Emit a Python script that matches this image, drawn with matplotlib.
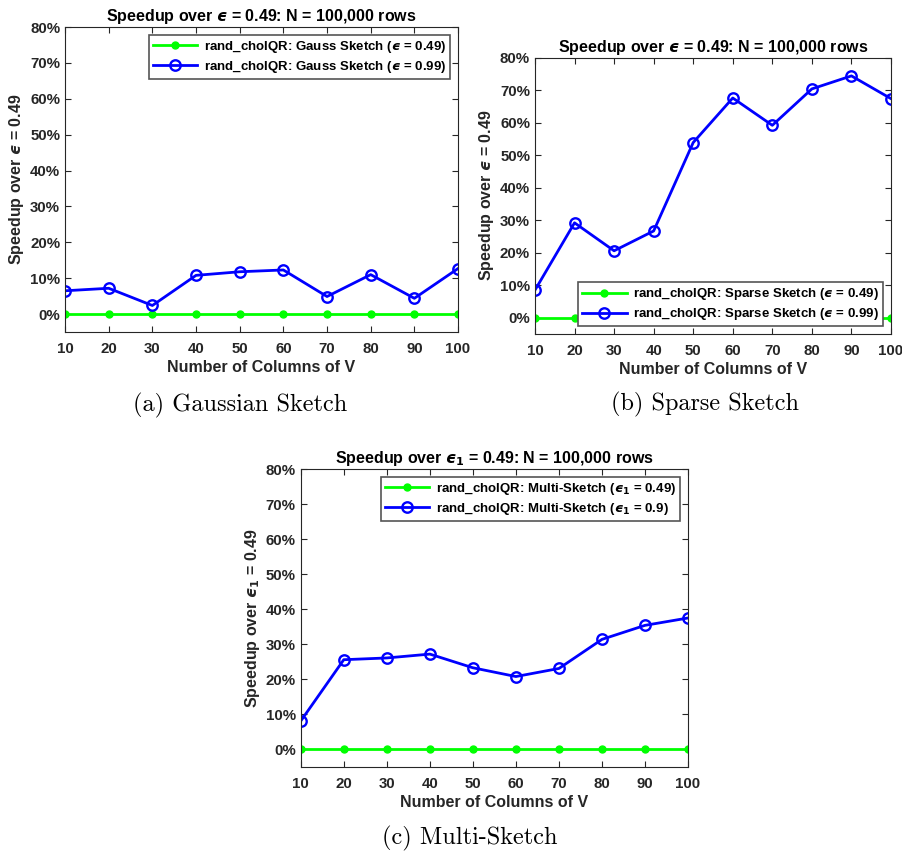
import matplotlib.pyplot as plt
from matplotlib.ticker import FuncFormatter

plt.rcParams['font.family'] = ['Liberation Sans', 'DejaVu Sans']
plt.rcParams['font.weight'] = 'bold'
plt.rcParams['mathtext.fontset'] = 'dejavusans'

cols = [10, 20, 30, 40, 50, 60, 70, 80, 90, 100]
base = [0, 0, 0, 0, 0, 0, 0, 0, 0, 0]
gauss_099 = [6.5, 7.2, 2.4, 10.8, 11.8, 12.3, 4.9, 11.0, 4.4, 12.7]
sparse_099 = [8.5, 29.2, 20.6, 26.7, 53.9, 67.6, 59.2, 70.4, 74.4, 67.4]
multi_09 = [8.1, 25.6, 26.1, 27.2, 23.3, 20.8, 23.1, 31.4, 35.4, 37.5]

ink = '#262626'
EPS = '$\u03f5$'
EPS1 = '$\u03f5_1$'

fig = plt.figure(figsize=(9.02, 8.56), dpi=100)


def panel(rect, y2, eps, lab1, lab2, legloc, caption, cap_xy):
    ax = fig.add_axes(rect)
    ax.plot(cols, base, '-o', color='#00ff00', lw=2, ms=5, label=lab1)
    ax.plot(cols, y2, '-o', color='#0000ff', lw=2, ms=7.5, mfc='none', mew=1.7, label=lab2)
    ax.set_xlim(10, 100)
    ax.set_ylim(-5, 80)
    ax.set_xticks(cols)
    ax.set_yticks(range(0, 81, 10))
    ax.yaxis.set_major_formatter(FuncFormatter(lambda v, p: '%d%%' % v))
    ax.tick_params(direction='in', top=True, right=True, labelsize=10.8, colors=ink, length=4)
    ax.tick_params(axis='x', pad=7)
    for s in ax.spines.values():
        s.set_color(ink)
        s.set_linewidth(0.8)
    ax.set_title('Speedup over ' + eps + ' = 0.49: N = 100,000 rows', fontsize=11.5, fontweight='bold', pad=4)
    ax.set_xlabel('Number of Columns of V', fontsize=11.5, fontweight='bold', color=ink, labelpad=3)
    ax.set_ylabel('Speedup over ' + eps + ' = 0.49', fontsize=11.5, fontweight='bold', color=ink, labelpad=3)
    leg = ax.legend(loc=legloc, fontsize=9.5, fancybox=False, framealpha=1, borderpad=0.3,
                    handlelength=3.4, labelspacing=0.3, borderaxespad=0.6, handletextpad=0.5)
    leg.get_frame().set_edgecolor('#555555')
    leg.get_frame().set_linewidth(1.2)
    for t in leg.get_texts():
        t.set_fontweight('bold')
    fig.text(cap_xy[0], cap_xy[1], caption, family='cmr10', fontsize=17.5, ha='center', va='center')
    return ax


panel([0.0721, 0.6121, 0.4357, 0.3563], gauss_099, EPS,
      'rand_cholQR: Gauss Sketch (' + EPS + ' = 0.49)',
      'rand_cholQR: Gauss Sketch (' + EPS + ' = 0.99)',
      'upper right', '(a) Gaussian Sketch', (240 / 902, 1 - 405 / 856))

panel([0.5931, 0.6098, 0.3947, 0.3228], sparse_099, EPS,
      'rand_cholQR: Sparse Sketch (' + EPS + ' = 0.49)',
      'rand_cholQR: Sparse Sketch (' + EPS + ' = 0.99)',
      'lower right', '(b) Sparse Sketch', (705 / 902, 1 - 404 / 856))

panel([0.3334, 0.1040, 0.4294, 0.3481], multi_09, EPS1,
      'rand_cholQR: Multi-Sketch (' + EPS1 + ' = 0.49)',
      'rand_cholQR: Multi-Sketch (' + EPS1 + ' = 0.9)',
      'upper right', '(c) Multi-Sketch', (470 / 902, 1 - 838 / 856))

fig.savefig('out.png', dpi=100, facecolor='white')
